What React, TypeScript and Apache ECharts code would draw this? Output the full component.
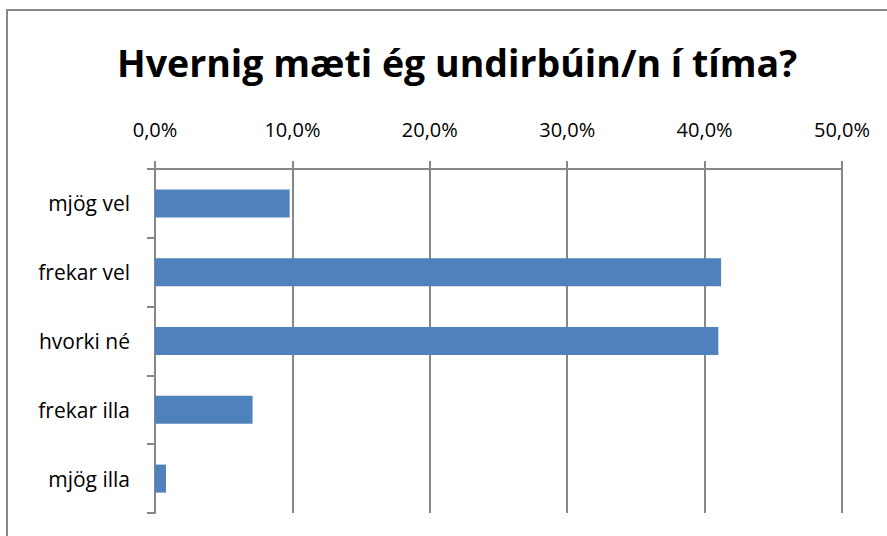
import React, { useEffect, useRef } from "react";
import * as echarts from "echarts";

const titleText = "Hvernig mæti ég undirbúin/n í tíma?";
const categories = ["mjög vel", "frekar vel", "hvorki né", "frekar illa", "mjög illa"];
const values = [9.8, 41.2, 41.0, 7.1, 0.8];
const tickMax = 50;
const tickStep = 10;

const FONT = "'Open Sans', Lato, sans-serif";
const GRAY = "#878787";

export default function App() {
  const ref = useRef<HTMLDivElement>(null);
  useEffect(() => {
    document.body.style.margin = "0";
    const chart = echarts.init(ref.current!, null, { renderer: "svg" });
    chart.setOption({
      animation: false,
      backgroundColor: "#ffffff",
      title: {
        text: titleText,
        left: 112,
        top: 38,
        textStyle: { fontFamily: FONT, fontSize: 37.5, fontWeight: "bold", color: "#000" },
      },
      graphic: [
        {
          type: "rect",
          shape: { x: 7, y: 10, width: 900, height: 600 },
          style: { fill: "none", stroke: GRAY, lineWidth: 2 },
          silent: true,
        },
      ],
      grid: { left: 155, right: 45, top: 169, bottom: 23, containLabel: false },
      xAxis: {
        type: "value",
        position: "top",
        min: 0,
        max: tickMax,
        interval: tickStep,
        axisLine: { show: true, lineStyle: { color: GRAY, width: 2 } },
        axisTick: { show: true, length: 8, lineStyle: { color: GRAY, width: 2 } },
        splitLine: { show: true, lineStyle: { color: GRAY, width: 2 } },
        axisLabel: {
          margin: 30,
          fontFamily: FONT,
          fontSize: 20,
          color: "#000",
          formatter: (v: number) => v.toFixed(1).replace(".", ",") + "%",
        },
      },
      yAxis: {
        type: "category",
        inverse: true,
        data: categories,
        axisLine: { show: true, lineStyle: { color: GRAY, width: 2 } },
        axisTick: { show: true, length: 8, lineStyle: { color: GRAY, width: 2 } },
        axisLabel: { margin: 25, fontFamily: FONT, fontSize: 21, color: "#000" },
      },
      series: [
        {
          type: "bar",
          data: values,
          barWidth: 28,
          itemStyle: { color: "#4F81BD" },
        },
      ],
    });
    return () => chart.dispose();
  }, []);
  return <div ref={ref} style={{ position: "absolute", left: 0, top: 0, width: 887, height: 536 }} />;
}
